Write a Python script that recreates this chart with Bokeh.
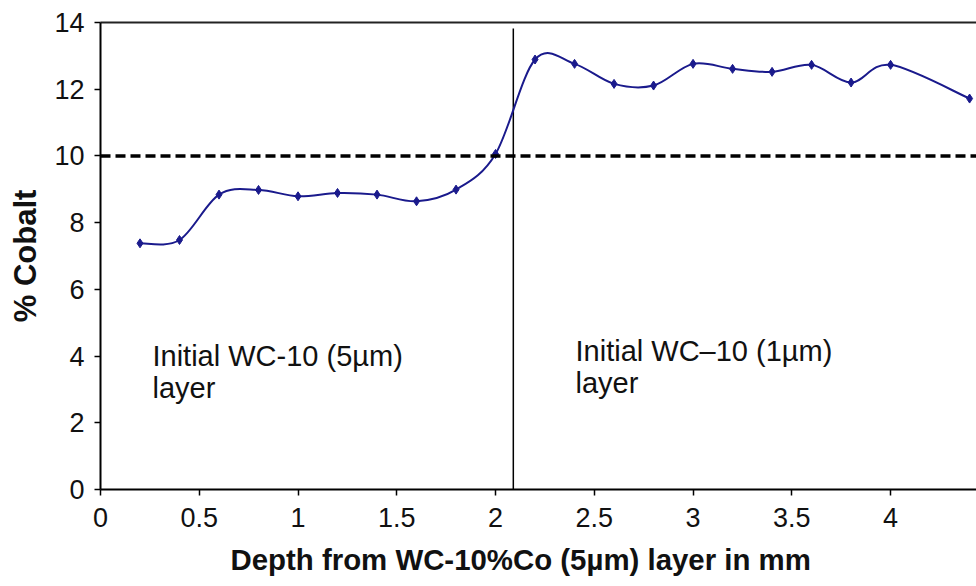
import numpy as np
from bokeh.plotting import figure
from bokeh.models import (Range1d, FixedTicker, NumeralTickFormatter, Span, Label,
                          LinearAxis, ColumnDataSource, Title)
from bokeh.embed import file_html
from bokeh.resources import INLINE

# ---- data ----
depth = [0.2, 0.4, 0.6, 0.8, 1.0, 1.2, 1.4, 1.6, 1.8, 2.0, 2.2, 2.4, 2.6, 2.8,
         3.0, 3.2, 3.4, 3.6, 3.8, 4.0, 4.4]
cobalt = [7.38, 7.48, 8.84, 8.98, 8.79, 8.89, 8.84, 8.64, 8.99, 10.06, 12.89,
          12.76, 12.16, 12.11, 12.76, 12.61, 12.52, 12.73, 12.20, 12.73, 11.72]
x_ticks = [0, 0.5, 1, 1.5, 2, 2.5, 3, 3.5, 4]
y_ticks = [0, 2, 4, 6, 8, 10, 12, 14]
threshold = 10
boundary_x = 2.09
boundary_top = 13.82
left_text = ["Initial WC-10 (5µm)", "layer"]
right_text = ["Initial WC\u201310 (1µm)", "layer"]
x_title = "Depth from WC-10%Co (5µm) layer in mm"
y_title = "% Cobalt"

FONT = "Liberation Sans"
NAVY = "#1a1a8c"

p = figure(width=976, height=586, output_backend="svg", toolbar_location=None,
           x_range=Range1d(0, 4.435), y_range=Range1d(0, 14),
           min_border_left=100, min_border_right=0, min_border_top=22,
           min_border_bottom=97)
p.outline_line_color = None
p.grid.visible = False
p.background_fill_color = "white"
p.border_fill_color = "white"

for ax in (p.xaxis[0], p.yaxis[0]):
    ax.axis_line_color = "black"
    ax.axis_line_width = 2
    ax.major_tick_line_color = "black"
    ax.major_tick_line_width = 1.5
    ax.major_tick_out = 6
    ax.major_tick_in = 0
    ax.minor_tick_line_color = None
    ax.major_label_text_font = FONT
    ax.major_label_text_font_size = "27px"
    ax.major_label_text_color = "#111111"

p.xaxis.ticker = FixedTicker(ticks=x_ticks)
p.xaxis.formatter = NumeralTickFormatter(format="0.[0]")
p.yaxis.ticker = FixedTicker(ticks=y_ticks)
p.xaxis.major_label_standoff = 12
p.yaxis.major_label_standoff = 10

p.yaxis.axis_label = y_title
p.yaxis.axis_label_text_font = FONT
p.yaxis.axis_label_text_font_size = "31px"
p.yaxis.axis_label_text_font_style = "bold"
p.yaxis.axis_label_text_color = "#111111"
p.yaxis.axis_label_standoff = 8

# x title as a below-title, offset from the frame's left edge
p.add_layout(Title(text=x_title, align="left", offset=130, standoff=22,
                   text_font=FONT, text_font_size="29.4px",
                   text_font_style="bold", text_color="#111111"), "below")

# top border
top = LinearAxis(ticker=FixedTicker(ticks=[]), axis_line_width=2,
                 axis_line_color="#222222", major_label_text_font_size="0px",
                 major_tick_line_color=None, minor_tick_line_color=None)
p.add_layout(top, "above")

# threshold dashed line
p.add_layout(Span(location=threshold, dimension="width", line_color="black",
                  line_width=3.5, line_dash="10 5"))

# boundary vertical line
p.segment(x0=[boundary_x], y0=[0], x1=[boundary_x], y1=[boundary_top],
          line_color="black", line_width=1.5)

# smoothed line through data (Catmull-Rom as cubic Bezier)
x = np.array(depth, dtype=float)
y = np.array(cobalt, dtype=float)
xp = np.concatenate([[x[0]], x, [x[-1]]])
yp = np.concatenate([[y[0]], y, [y[-1]]])
n = len(x) - 1
x0, y0 = x[:-1], y[:-1]
x1, y1 = x[1:], y[1:]
cx0 = x0 + (xp[2:n + 2] - xp[0:n]) / 6.0
cy0 = y0 + (yp[2:n + 2] - yp[0:n]) / 6.0
cx1 = x1 - (xp[3:n + 3] - xp[1:n + 1]) / 6.0
cy1 = y1 - (yp[3:n + 3] - yp[1:n + 1]) / 6.0
src = ColumnDataSource(dict(x0=x0, y0=y0, x1=x1, y1=y1, cx0=cx0, cy0=cy0,
                            cx1=cx1, cy1=cy1))
p.bezier(x0="x0", y0="y0", x1="x1", y1="y1", cx0="cx0", cy0="cy0",
         cx1="cx1", cy1="cy1", source=src, line_color=NAVY, line_width=2)
p.scatter(depth, cobalt, marker="diamond", size=9, fill_color=NAVY,
          line_color=NAVY)

# annotations
for i, t in enumerate(left_text):
    p.add_layout(Label(x=0.263, y=4.0 - i * 0.96, text=t, text_font=FONT,
                       text_font_size="29px", text_color="#111111",
                       text_baseline="middle"))
for i, t in enumerate(right_text):
    p.add_layout(Label(x=2.405, y=4.15 - i * 0.96, text=t, text_font=FONT,
                       text_font_size="29px", text_color="#111111",
                       text_baseline="middle"))

open("out.html", "w").write(file_html(p, INLINE))
